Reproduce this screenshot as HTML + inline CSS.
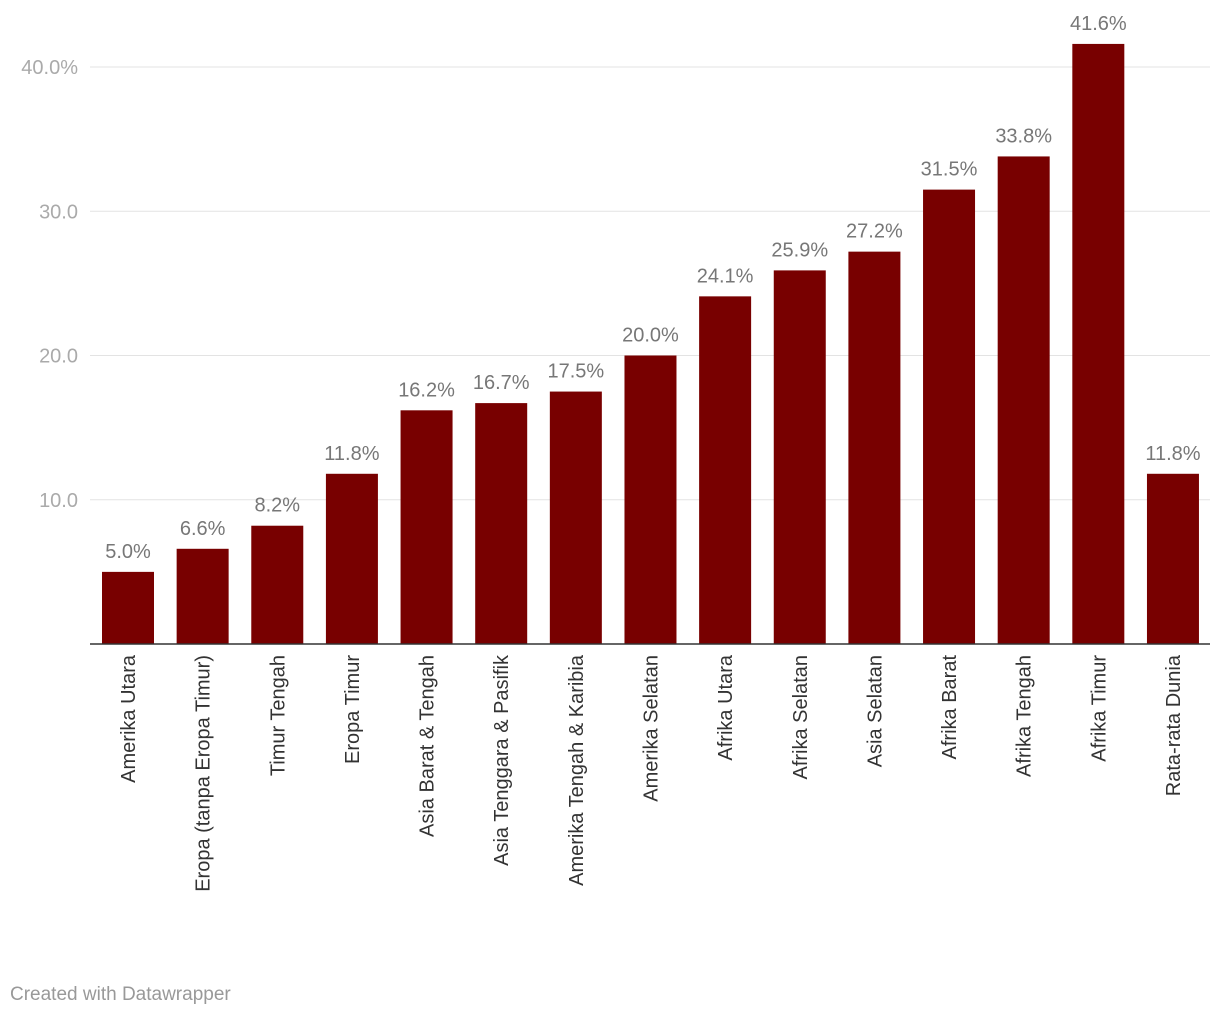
<!DOCTYPE html>
<html><head><meta charset="utf-8"><style>
body{margin:0;background:#fff;font-family:"Liberation Sans",Arial,sans-serif}
svg text{font-family:"Liberation Sans",Arial,sans-serif}
</style></head><body>
<svg width="1220" height="1018">
<g id="grid"></g>
<g id="bars"></g>
<g id="labels"></g>
<line x1="90" x2="1210" y1="644" y2="644" stroke="#333" stroke-width="1.5"/>
<text x="10" y="1000" font-size="19" fill="#999">Created with Datawrapper</text>
</svg>
<script>
const categories=["Amerika Utara","Eropa (tanpa Eropa Timur)","Timur Tengah","Eropa Timur","Asia Barat & Tengah","Asia Tenggara & Pasifik","Amerika Tengah & Karibia","Amerika Selatan","Afrika Utara","Afrika Selatan","Asia Selatan","Afrika Barat","Afrika Tengah","Afrika Timur","Rata-rata Dunia"];
const values=[5.0,6.6,8.2,11.8,16.2,16.7,17.5,20.0,24.1,25.9,27.2,31.5,33.8,41.6,11.8];
const ticks=[10,20,30,40];
const tickLabels=["10.0","20.0","30.0","40.0%"];
const NS="http://www.w3.org/2000/svg";
const y=v=>644-v*14.425;
const step=74.64,x0=128;
const xc=i=>x0+i*step;
function mk(t,a,p){const e=document.createElementNS(NS,t);for(const k in a)e.setAttribute(k,a[k]);p.appendChild(e);return e;}
const g=document.getElementById('grid');
ticks.forEach((t,i)=>{
 const l=mk('line',{x1:90,x2:1210,y1:y(t),y2:y(t),stroke:'#e3e3e3','stroke-width':1},g);
 
 
 const tx=mk('text',{x:78,y:y(t)+7,'text-anchor':'end','font-size':20,fill:'#aaa'},g);
 
 
 tx.textContent=tickLabels[i];
});
const b=document.getElementById('bars'),lb=document.getElementById('labels');
values.forEach((v,i)=>{
 const r=mk('rect',{x:xc(i)-26,y:y(v),width:52,height:644-y(v),fill:'#780000'},b);
 
 
 const t=mk('text',{x:xc(i),y:y(v)-14,'text-anchor':'middle','font-size':20,fill:'#777'},b);
 
 
 t.textContent=v.toFixed(1)+'%';
 const c=mk('text',{transform:`translate(${xc(i)+7},655) rotate(-90)`,'text-anchor':'end','font-size':20,fill:'#333'},lb);
 
 
 c.textContent=categories[i];
});
</script>
</body></html>
